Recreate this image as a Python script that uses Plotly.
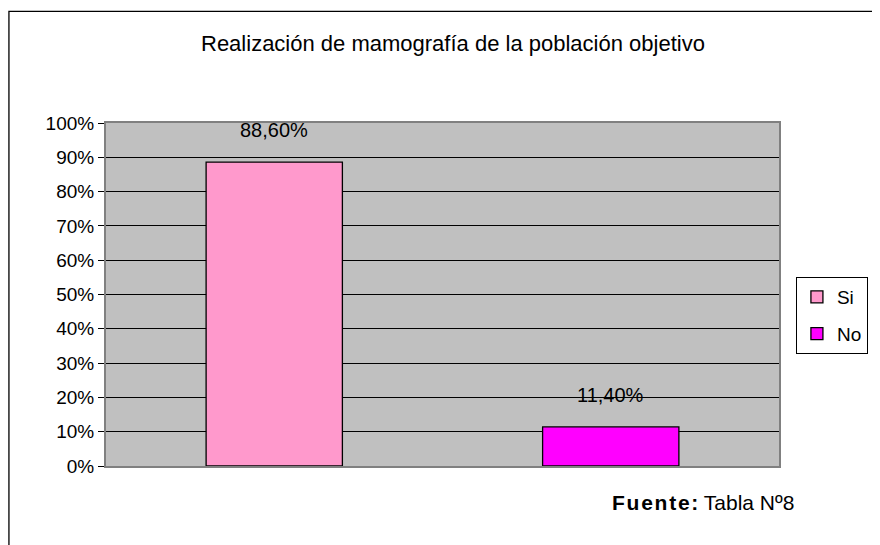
import plotly.graph_objects as go

categories = ["Si", "No"]
values = [0.886, 0.114]
labels = ["88,60%", "11,40%"]
colors = ["#FF99CC", "#FF00FF"]
tick_vals = [i / 10 for i in range(11)]
tick_text = [f"{i*10}%" for i in range(11)]

OFF = 8  # default page body margin
W, H = 880 - OFF, 545 - OFF
# plot area in page pixels
PL, PR, PT, PB = 106, 782, 122.5, 466.5
L, R = PL - OFF, W - (PR - OFF)
T, B = PT - OFF, H - (PB - OFF)
pw, ph = PR - PL, PB - PT

def px_x(px):
    return (px - PL) / pw

def px_y(py):
    return (PB - py) / ph

font = "Liberation Sans, Arial, sans-serif"

fig = go.Figure()
for cat, val, col in zip(categories, values, colors):
    fig.add_trace(go.Bar(
        x=[cat], y=[val], name=cat, width=0.405, legendgroup=cat,
        marker=dict(color=col, line=dict(color="black", width=1.3)),
    ))

for cat, val, lab in zip(categories, values, labels):
    fig.add_annotation(x=cat, y=val, text=lab, showarrow=False,
                       yanchor="bottom", yshift=19,
                       font=dict(family=font, size=20, color="black"))

fig.add_annotation(xref="paper", yref="paper", x=px_x(612), y=px_y(503),
                   text="<b>F\u200au\u200ae\u200an\u200at\u200ae\u200a:</b> Tabla Nº8",
                   showarrow=False, xanchor="left", yanchor="middle",
                   font=dict(family=font, size=21, color="black"))

fig.add_annotation(xref="paper", yref="paper", x=px_x(455), y=px_y(43),
                   text="Realización de mamografía de la población objetivo",
                   showarrow=False, xanchor="center", yanchor="middle",
                   font=dict(family=font, size=22, color="black"))

# outer chart frame
fig.add_shape(type="rect", xref="paper", yref="paper",
              x0=px_x(8.5), y0=px_y(580), x1=px_x(920), y1=px_y(10.5),
              line=dict(color="black", width=1.3), fillcolor="rgba(0,0,0,0)",
              layer="below")

fig.update_layout(
    width=W, height=H,
    margin=dict(l=L, r=R, t=T, b=B, pad=0),
    paper_bgcolor="white",
    plot_bgcolor="#C0C0C0",
    barmode="overlay",
    showlegend=True,
    legend=dict(x=px_x(799), y=px_y(277), xanchor="left", yanchor="top",
                bordercolor="black", borderwidth=1, bgcolor="white",
                font=dict(family=font, size=19, color="black"),
                itemwidth=30, tracegroupgap=9),
    font=dict(family=font, size=19, color="black"),
)
fig.update_xaxes(showticklabels=False, ticks="", showgrid=False,
                 showline=True, linecolor="#808080", linewidth=2, mirror=True,
                 categoryorder="array", categoryarray=categories)
fig.update_yaxes(range=[0, 1], tickvals=tick_vals, ticktext=tick_text,
                 showgrid=True, gridcolor="black", gridwidth=1,
                 ticks="outside", ticklen=6, tickcolor="black",
                 showline=True, linecolor="#808080", linewidth=2, mirror=True,
                 zeroline=False,
                 tickfont=dict(family=font, size=19, color="black"))

fig.write_html("out.html")
